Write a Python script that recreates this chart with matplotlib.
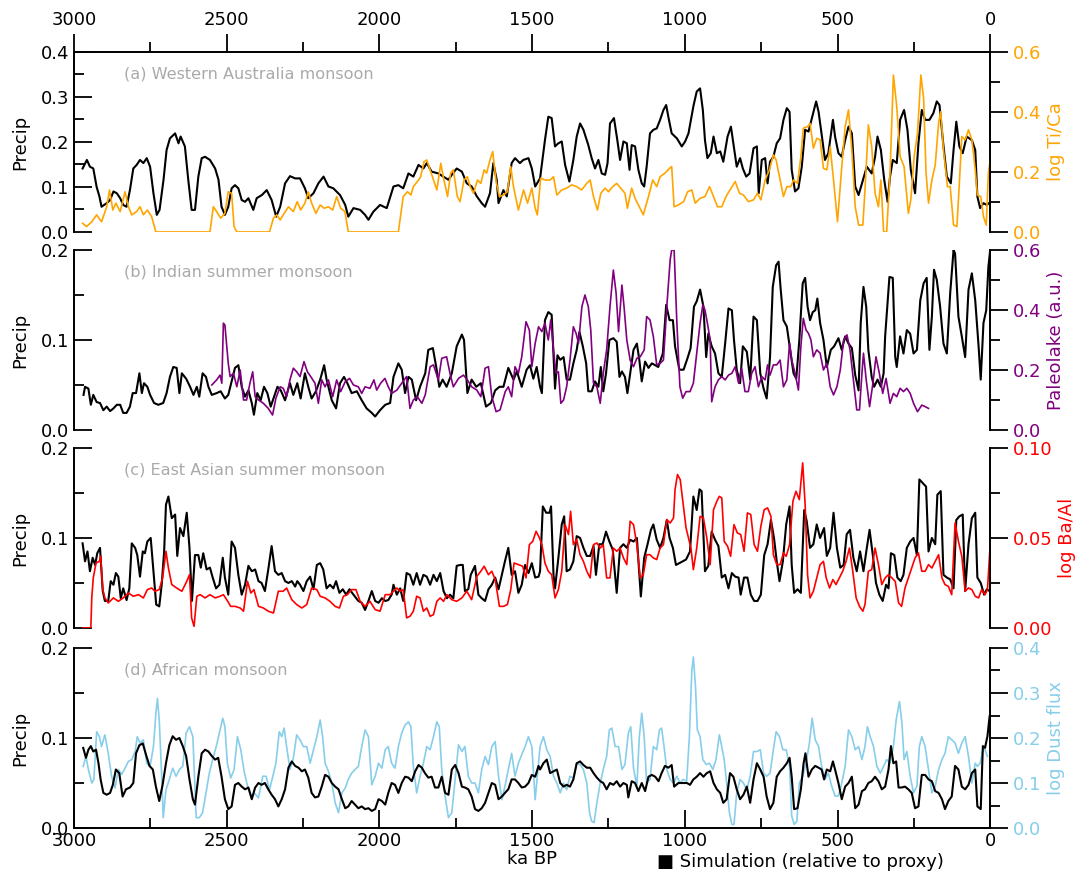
import matplotlib
matplotlib.use("Agg")
import matplotlib.pyplot as plt
import numpy as np
from matplotlib.ticker import MultipleLocator, FormatStrFormatter

# ---- data (age in years BP, value) ----
wa_sim = [(2972,0.141),(2958,0.16),(2948,0.145),(2937,0.141),(2926,0.10),(2917,0.079),(2910,0.056),(2893,0.064),(2882,0.071),(2871,0.09),(2860,0.086),(2849,0.075),(2839,0.06),(2828,0.056),(2817,0.093),(2806,0.141),(2795,0.149),(2784,0.16),(2773,0.153),(2762,0.164),(2751,0.145),(2740,0.086),(2729,0.038),(2720,0.049),(2707,0.116),(2697,0.182),(2686,0.208),(2669,0.219),(2658,0.197),(2651,0.212),(2637,0.19),(2626,0.116),(2615,0.049),(2604,0.049),(2593,0.123),(2582,0.164),(2571,0.167),(2555,0.16),(2538,0.141),(2527,0.116),(2517,0.056),(2506,0.038),(2495,0.056),(2484,0.097),(2473,0.104),(2462,0.097),(2451,0.071),(2440,0.067),(2429,0.075),(2413,0.049),(2402,0.075),(2385,0.082),(2369,0.093),(2353,0.071),(2338,0.034),(2325,0.056),(2309,0.108),(2293,0.124),(2276,0.119),(2260,0.119),(2244,0.097),(2233,0.075),(2216,0.086),(2200,0.108),(2183,0.123),(2167,0.101),(2151,0.097),(2129,0.082),(2112,0.06),(2102,0.034),(2085,0.053),(2063,0.049),(2047,0.038),(2036,0.027),(2020,0.045),(1998,0.06),(1976,0.053),(1954,0.101),(1938,0.104),(1922,0.097),(1905,0.13),(1889,0.123),(1872,0.149),(1856,0.141),(1845,0.153),(1829,0.134),(1807,0.13),(1791,0.123),(1774,0.116),(1763,0.127),(1747,0.141),(1730,0.134),(1714,0.108),(1698,0.101),(1681,0.079),(1665,0.064),(1654,0.056),(1638,0.086),(1627,0.153),(1616,0.116),(1610,0.064),(1594,0.093),(1583,0.079),(1567,0.153),(1556,0.164),(1540,0.153),(1529,0.16),(1512,0.164),(1501,0.141),(1490,0.101),(1474,0.119),(1458,0.204),(1447,0.256),(1436,0.253),(1425,0.19),(1414,0.197),(1403,0.201),(1392,0.149),(1378,0.112),(1365,0.16),(1354,0.212),(1343,0.241),(1332,0.227),(1316,0.193),(1305,0.164),(1294,0.141),(1283,0.16),(1272,0.13),(1261,0.127),(1253,0.153),(1245,0.241),(1232,0.253),(1221,0.204),(1212,0.16),(1201,0.201),(1190,0.197),(1181,0.138),(1174,0.193),(1163,0.19),(1152,0.138),(1141,0.108),(1133,0.101),(1125,0.145),(1114,0.219),(1103,0.227),(1092,0.23),(1081,0.249),(1070,0.271),(1061,0.282),(1054,0.256),(1043,0.219),(1026,0.208),(1010,0.19),(999,0.201),(988,0.219),(972,0.279),(961,0.312),(950,0.319),(941,0.271),(934,0.204),(926,0.164),(915,0.175),(906,0.212),(895,0.175),(884,0.179),(874,0.156),(860,0.212),(849,0.234),(841,0.197),(830,0.145),(819,0.164),(810,0.141),(799,0.123),(788,0.13),(775,0.186),(764,0.19),(758,0.086),(748,0.16),(737,0.164),(729,0.108),(721,0.156),(710,0.167),(699,0.197),(688,0.208),(677,0.249),(666,0.275),(657,0.267),(650,0.138),(639,0.09),(628,0.097),(617,0.145),(606,0.227),(595,0.223),(581,0.26),(570,0.29),(562,0.267),(551,0.212),(541,0.16),(530,0.175),(515,0.249),(508,0.212),(497,0.175),(486,0.167),(475,0.204),(464,0.234),(453,0.219),(442,0.101),(431,0.082),(420,0.108),(404,0.145),(388,0.13),(377,0.167),(369,0.212),(358,0.182),(347,0.116),(336,0.067),(328,0.123),(319,0.16),(306,0.153),(295,0.249),(282,0.271),(271,0.227),(260,0.138),(246,0.086),(235,0.197),(224,0.271),(213,0.249),(199,0.249),(186,0.264),(175,0.29),(166,0.282),(155,0.204),(142,0.123),(129,0.108),(120,0.182),(111,0.245),(101,0.19),(90,0.175),(77,0.212),(60,0.204),(49,0.182),(42,0.079),(33,0.053),(22,0.064),(11,0.06),(2,0.065)]

wa_proxy = [(2972,0.029),(2959,0.018),(2942,0.034),(2926,0.057),(2910,0.034),(2893,0.084),(2884,0.14),(2873,0.073),(2863,0.096),(2849,0.068),(2833,0.134),(2822,0.084),(2811,0.057),(2795,0.068),(2784,0.084),(2773,0.057),(2760,0.073),(2746,0.051),(2732,0.0),(2555,0.0),(2544,0.084),(2533,0.068),(2520,0.046),(2506,0.062),(2495,0.134),(2484,0.129),(2476,0.018),(2467,0.0),(2360,0.0),(2347,0.046),(2336,0.057),(2325,0.04),(2312,0.062),(2298,0.084),(2282,0.068),(2269,0.101),(2258,0.073),(2244,0.096),(2233,0.134),(2222,0.096),(2208,0.062),(2194,0.09),(2181,0.079),(2167,0.084),(2153,0.073),(2140,0.118),(2127,0.079),(2113,0.068),(2102,0.0),(1938,0.0),(1922,0.118),(1908,0.134),(1897,0.123),(1889,0.151),(1872,0.173),(1865,0.184),(1854,0.234),(1845,0.24),(1834,0.207),(1823,0.173),(1812,0.14),(1799,0.229),(1791,0.184),(1777,0.118),(1767,0.196),(1758,0.207),(1745,0.118),(1736,0.101),(1723,0.173),(1712,0.184),(1703,0.151),(1692,0.129),(1679,0.173),(1668,0.162),(1657,0.207),(1649,0.196),(1638,0.24),(1629,0.268),(1618,0.168),(1607,0.118),(1594,0.123),(1581,0.134),(1570,0.218),(1561,0.151),(1545,0.073),(1528,0.14),(1515,0.096),(1501,0.146),(1490,0.079),(1483,0.057),(1472,0.179),(1458,0.173),(1441,0.173),(1430,0.184),(1419,0.123),(1403,0.14),(1387,0.146),(1370,0.157),(1354,0.151),(1338,0.14),(1321,0.162),(1310,0.173),(1299,0.118),(1286,0.073),(1275,0.129),(1261,0.146),(1250,0.134),(1236,0.151),(1223,0.162),(1210,0.146),(1196,0.129),(1188,0.079),(1174,0.146),(1163,0.112),(1149,0.084),(1136,0.057),(1119,0.118),(1105,0.173),(1092,0.151),(1081,0.184),(1065,0.196),(1050,0.212),(1043,0.218),(1035,0.084),(1021,0.09),(1004,0.101),(991,0.134),(977,0.14),(966,0.096),(950,0.112),(934,0.118),(919,0.151),(906,0.118),(893,0.084),(879,0.084),(865,0.118),(852,0.14),(835,0.168),(821,0.129),(808,0.123),(792,0.101),(775,0.107),(762,0.129),(751,0.107),(737,0.173),(723,0.207),(710,0.257),(701,0.24),(690,0.184),(677,0.118),(666,0.151),(653,0.151),(644,0.173),(631,0.162),(620,0.251),(612,0.346),(598,0.351),(590,0.362),(579,0.279),(568,0.312),(557,0.307),(546,0.212),(535,0.207),(524,0.284),(513,0.173),(500,0.034),(486,0.218),(475,0.351),(464,0.407),(453,0.273),(442,0.084),(431,0.023),(417,0.023),(410,0.14),(399,0.357),(388,0.284),(377,0.129),(366,0.084),(358,0.173),(349,0.0),(339,0.0),(328,0.196),(317,0.523),(306,0.418),(295,0.251),(282,0.218),(268,0.062),(260,0.107),(249,0.251),(238,0.329),(227,0.523),(218,0.446),(210,0.196),(202,0.096),(191,0.173),(180,0.223),(169,0.362),(162,0.401),(153,0.273),(140,0.151),(131,0.151),(120,0.023),(109,0.018),(101,0.162),(93,0.318),(82,0.307),(71,0.34),(60,0.307),(49,0.207),(42,0.123),(31,0.118),(22,0.051),(13,0.023),(6,0.196),(0,0.24)]

ism_sim = [(2969,0.039),(2964,0.048),(2953,0.046),(2945,0.028),(2937,0.039),(2926,0.031),(2915,0.03),(2904,0.022),(2893,0.026),(2882,0.021),(2871,0.024),(2860,0.028),(2849,0.028),(2839,0.019),(2828,0.019),(2817,0.026),(2808,0.041),(2797,0.041),(2786,0.063),(2778,0.041),(2771,0.052),(2760,0.048),(2751,0.039),(2738,0.03),(2724,0.028),(2708,0.03),(2697,0.041),(2686,0.059),(2675,0.07),(2664,0.069),(2655,0.041),(2647,0.063),(2633,0.057),(2620,0.048),(2609,0.039),(2598,0.048),(2590,0.037),(2579,0.063),(2568,0.059),(2560,0.048),(2549,0.039),(2533,0.041),(2520,0.043),(2506,0.035),(2495,0.039),(2484,0.054),(2473,0.069),(2462,0.072),(2451,0.048),(2440,0.037),(2429,0.044),(2418,0.03),(2411,0.017),(2400,0.041),(2389,0.033),(2378,0.048),(2367,0.041),(2356,0.026),(2345,0.037),(2334,0.048),(2323,0.044),(2309,0.033),(2293,0.052),(2282,0.039),(2269,0.052),(2258,0.035),(2244,0.063),(2233,0.048),(2222,0.035),(2208,0.043),(2194,0.056),(2181,0.072),(2173,0.056),(2156,0.033),(2142,0.024),(2129,0.052),(2116,0.059),(2105,0.052),(2091,0.041),(2074,0.043),(2058,0.033),(2042,0.024),(2025,0.019),(2014,0.015),(1998,0.022),(1981,0.028),(1965,0.03),(1954,0.059),(1938,0.074),(1927,0.067),(1916,0.041),(1905,0.059),(1894,0.056),(1880,0.033),(1867,0.048),(1850,0.063),(1840,0.089),(1825,0.091),(1814,0.07),(1804,0.048),(1793,0.056),(1780,0.048),(1763,0.063),(1747,0.093),(1730,0.106),(1723,0.1),(1712,0.041),(1698,0.056),(1683,0.048),(1668,0.052),(1651,0.026),(1635,0.03),(1621,0.044),(1607,0.048),(1594,0.048),(1578,0.069),(1561,0.056),(1550,0.065),(1534,0.048),(1518,0.067),(1507,0.072),(1496,0.057),(1485,0.07),(1474,0.048),(1468,0.041),(1458,0.122),(1447,0.131),(1436,0.128),(1425,0.046),(1417,0.083),(1408,0.078),(1397,0.081),(1387,0.056),(1376,0.056),(1365,0.074),(1354,0.089),(1345,0.109),(1334,0.093),(1323,0.074),(1316,0.043),(1305,0.043),(1294,0.054),(1283,0.048),(1275,0.07),(1267,0.043),(1258,0.063),(1247,0.1),(1234,0.102),(1223,0.098),(1214,0.059),(1206,0.065),(1196,0.059),(1188,0.041),(1179,0.063),(1168,0.089),(1157,0.096),(1149,0.078),(1141,0.054),(1130,0.076),(1119,0.069),(1108,0.074),(1097,0.072),(1087,0.07),(1072,0.085),(1061,0.139),(1050,0.122),(1039,0.122),(1032,0.093),(1018,0.067),(1004,0.067),(991,0.08),(981,0.091),(970,0.137),(961,0.143),(950,0.156),(939,0.137),(930,0.081),(923,0.107),(912,0.093),(901,0.085),(890,0.063),(879,0.059),(868,0.096),(857,0.135),(846,0.133),(839,0.1),(830,0.067),(819,0.052),(810,0.093),(797,0.087),(786,0.056),(775,0.126),(764,0.122),(753,0.063),(742,0.046),(732,0.035),(721,0.081),(712,0.159),(701,0.183),(693,0.187),(686,0.156),(677,0.122),(666,0.115),(655,0.089),(644,0.063),(635,0.057),(625,0.1),(614,0.163),(606,0.169),(598,0.137),(590,0.122),(581,0.131),(573,0.133),(566,0.146),(557,0.119),(546,0.1),(535,0.07),(522,0.089),(511,0.093),(497,0.102),(486,0.089),(475,0.104),(464,0.096),(453,0.091),(442,0.061),(431,0.044),(424,0.119),(415,0.159),(406,0.137),(399,0.089),(388,0.059),(380,0.048),(369,0.056),(358,0.048),(349,0.063),(344,0.104),(330,0.17),(319,0.169),(311,0.081),(306,0.07),(295,0.104),(284,0.085),(273,0.111),(262,0.107),(251,0.085),(240,0.089),(229,0.144),(218,0.163),(208,0.169),(199,0.089),(191,0.126),(184,0.178),(175,0.167),(164,0.137),(153,0.096),(142,0.085),(131,0.152),(120,0.2),(115,0.196),(104,0.126),(93,0.104),(82,0.081),(71,0.156),(60,0.174),(49,0.144),(38,0.093),(31,0.056),(22,0.119),(13,0.133),(6,0.181),(0,0.2)]

ism_proxy = [(2549,0.15),(2533,0.167),(2522,0.183),(2516,0.156),(2511,0.356),(2506,0.35),(2495,0.222),(2489,0.178),(2478,0.189),(2467,0.144),(2456,0.2),(2445,0.1),(2435,0.1),(2424,0.156),(2415,0.194),(2407,0.111),(2396,0.1),(2380,0.089),(2364,0.072),(2350,0.05),(2339,0.106),(2325,0.144),(2315,0.139),(2304,0.111),(2293,0.167),(2282,0.206),(2271,0.194),(2260,0.178),(2247,0.228),(2236,0.194),(2225,0.178),(2211,0.156),(2200,0.089),(2189,0.167),(2178,0.144),(2167,0.167),(2153,0.111),(2140,0.167),(2127,0.128),(2112,0.161),(2098,0.172),(2085,0.15),(2069,0.144),(2058,0.122),(2047,0.144),(2031,0.139),(2018,0.167),(2009,0.133),(1996,0.156),(1982,0.172),(1971,0.144),(1960,0.122),(1943,0.133),(1927,0.156),(1911,0.178),(1900,0.072),(1889,0.1),(1876,0.111),(1861,0.089),(1850,0.117),(1834,0.211),(1823,0.217),(1807,0.167),(1796,0.239),(1780,0.244),(1769,0.189),(1758,0.144),(1741,0.172),(1725,0.183),(1712,0.167),(1698,0.144),(1681,0.133),(1668,0.111),(1654,0.206),(1643,0.211),(1632,0.111),(1618,0.061),(1605,0.067),(1588,0.128),(1578,0.144),(1567,0.111),(1556,0.211),(1545,0.189),(1534,0.244),(1520,0.361),(1509,0.333),(1501,0.211),(1490,0.289),(1479,0.344),(1468,0.328),(1458,0.356),(1447,0.3),(1439,0.367),(1430,0.267),(1422,0.189),(1414,0.194),(1406,0.089),(1397,0.1),(1387,0.144),(1376,0.233),(1365,0.344),(1356,0.322),(1348,0.289),(1337,0.411),(1327,0.45),(1316,0.411),(1308,0.333),(1299,0.156),(1288,0.144),(1277,0.089),(1267,0.189),(1256,0.267),(1245,0.411),(1234,0.533),(1225,0.456),(1217,0.328),(1206,0.483),(1199,0.411),(1190,0.3),(1179,0.233),(1168,0.211),(1157,0.239),(1146,0.244),(1133,0.267),(1125,0.378),(1114,0.367),(1103,0.311),(1092,0.217),(1081,0.222),(1070,0.233),(1059,0.411),(1048,0.567),(1043,0.6),(1035,0.6),(1026,0.356),(1016,0.144),(1007,0.106),(996,0.128),(983,0.128),(972,0.156),(961,0.256),(950,0.356),(941,0.417),(934,0.4),(926,0.356),(917,0.3),(912,0.094),(901,0.144),(890,0.167),(879,0.178),(868,0.167),(857,0.183),(846,0.189),(835,0.211),(824,0.156),(814,0.206),(803,0.128),(792,0.128),(781,0.189),(770,0.211),(759,0.144),(748,0.178),(737,0.167),(729,0.217),(721,0.183),(710,0.217),(699,0.217),(688,0.233),(677,0.144),(666,0.167),(657,0.289),(650,0.233),(639,0.189),(628,0.133),(620,0.278),(612,0.372),(603,0.333),(595,0.322),(587,0.3),(579,0.244),(568,0.267),(557,0.256),(546,0.2),(535,0.222),(524,0.144),(513,0.117),(502,0.144),(491,0.2),(480,0.3),(469,0.317),(459,0.267),(448,0.167),(437,0.067),(428,0.067),(420,0.189),(415,0.256),(406,0.167),(395,0.078),(384,0.156),(374,0.244),(363,0.189),(352,0.122),(341,0.172),(328,0.089),(317,0.122),(306,0.111),(295,0.139),(284,0.128),(273,0.139),(262,0.122),(251,0.089),(238,0.061),(224,0.083),(213,0.078),(202,0.072)]

eas_sim = [(2972,0.094),(2964,0.074),(2956,0.085),(2948,0.063),(2939,0.078),(2931,0.07),(2924,0.083),(2915,0.089),(2906,0.041),(2899,0.03),(2888,0.03),(2880,0.052),(2871,0.048),(2863,0.061),(2855,0.057),(2847,0.033),(2839,0.044),(2828,0.031),(2819,0.044),(2811,0.094),(2800,0.089),(2793,0.081),(2784,0.057),(2775,0.085),(2768,0.083),(2760,0.096),(2749,0.1),(2740,0.063),(2731,0.026),(2721,0.024),(2713,0.048),(2705,0.085),(2699,0.137),(2691,0.146),(2680,0.122),(2669,0.126),(2662,0.08),(2653,0.111),(2642,0.102),(2631,0.128),(2622,0.089),(2614,0.03),(2604,0.081),(2593,0.081),(2585,0.067),(2577,0.083),(2566,0.065),(2555,0.067),(2546,0.056),(2535,0.044),(2524,0.048),(2513,0.078),(2506,0.056),(2495,0.037),(2484,0.096),(2473,0.089),(2462,0.059),(2451,0.037),(2440,0.048),(2429,0.069),(2418,0.063),(2407,0.065),(2396,0.052),(2386,0.05),(2375,0.041),(2364,0.065),(2353,0.091),(2342,0.063),(2331,0.059),(2320,0.061),(2309,0.052),(2298,0.05),(2287,0.052),(2276,0.046),(2269,0.052),(2260,0.048),(2249,0.041),(2238,0.052),(2227,0.057),(2216,0.043),(2205,0.07),(2194,0.072),(2184,0.065),(2173,0.044),(2162,0.048),(2151,0.044),(2142,0.052),(2131,0.039),(2120,0.043),(2109,0.037),(2098,0.043),(2085,0.037),(2069,0.03),(2058,0.028),(2047,0.02),(2036,0.03),(2025,0.041),(2014,0.03),(2003,0.028),(1992,0.033),(1981,0.03),(1971,0.031),(1960,0.037),(1954,0.048),(1943,0.037),(1932,0.044),(1922,0.03),(1911,0.061),(1900,0.059),(1889,0.048),(1878,0.061),(1867,0.048),(1856,0.059),(1845,0.057),(1834,0.048),(1823,0.059),(1812,0.052),(1801,0.061),(1790,0.041),(1779,0.033),(1769,0.037),(1758,0.033),(1747,0.069),(1736,0.07),(1727,0.07),(1720,0.041),(1709,0.043),(1701,0.059),(1687,0.069),(1676,0.037),(1665,0.033),(1654,0.03),(1643,0.043),(1632,0.048),(1621,0.056),(1610,0.043),(1599,0.059),(1589,0.074),(1578,0.089),(1567,0.059),(1556,0.063),(1545,0.039),(1534,0.048),(1523,0.07),(1512,0.061),(1501,0.072),(1490,0.056),(1479,0.057),(1474,0.063),(1465,0.135),(1454,0.128),(1443,0.128),(1438,0.135),(1430,0.059),(1425,0.044),(1414,0.078),(1403,0.115),(1395,0.124),(1387,0.063),(1376,0.065),(1365,0.074),(1354,0.102),(1343,0.1),(1332,0.089),(1321,0.08),(1310,0.08),(1299,0.091),(1291,0.059),(1280,0.093),(1269,0.093),(1258,0.107),(1247,0.096),(1236,0.087),(1223,0.039),(1212,0.089),(1201,0.093),(1190,0.089),(1179,0.098),(1168,0.096),(1157,0.1),(1144,0.035),(1133,0.078),(1122,0.093),(1111,0.109),(1103,0.115),(1092,0.098),(1081,0.089),(1070,0.1),(1059,0.12),(1050,0.1),(1039,0.089),(1029,0.07),(1018,0.072),(1007,0.074),(996,0.076),(983,0.085),(972,0.146),(961,0.131),(952,0.154),(945,0.152),(934,0.063),(923,0.069),(912,0.107),(901,0.098),(890,0.091),(879,0.056),(868,0.059),(857,0.044),(846,0.061),(835,0.057),(824,0.056),(817,0.037),(806,0.056),(795,0.056),(784,0.037),(773,0.03),(762,0.03),(751,0.037),(740,0.081),(729,0.093),(718,0.12),(708,0.1),(699,0.074),(690,0.052),(679,0.074),(668,0.115),(657,0.135),(650,0.07),(642,0.039),(631,0.043),(620,0.039),(609,0.131),(601,0.119),(590,0.089),(579,0.093),(568,0.115),(557,0.1),(544,0.111),(535,0.08),(524,0.089),(513,0.128),(502,0.089),(491,0.067),(480,0.07),(470,0.104),(459,0.109),(448,0.078),(437,0.063),(426,0.085),(415,0.063),(404,0.089),(395,0.109),(384,0.08),(374,0.05),(363,0.037),(352,0.03),(341,0.048),(333,0.044),(325,0.083),(314,0.081),(304,0.056),(293,0.052),(284,0.059),(273,0.089),(262,0.096),(251,0.1),(240,0.081),(232,0.165),(221,0.161),(210,0.157),(202,0.085),(191,0.1),(180,0.093),(173,0.148),(162,0.152),(153,0.059),(142,0.056),(131,0.054),(120,0.044),(111,0.12),(101,0.124),(90,0.126),(82,0.041),(71,0.093),(60,0.122),(49,0.128),(42,0.056),(31,0.05),(20,0.037),(11,0.043),(2,0.041)]

eas_proxy = [(2972,0.0),(2945,0.0),(2942,0.0167),(2937,0.0278),(2928,0.0361),(2917,0.037),(2913,0.0398),(2906,0.0213),(2899,0.0167),(2888,0.0139),(2871,0.0167),(2855,0.0148),(2839,0.0167),(2822,0.0194),(2806,0.0176),(2789,0.0185),(2773,0.0167),(2760,0.0213),(2746,0.0222),(2735,0.0204),(2721,0.0213),(2710,0.0278),(2699,0.0426),(2691,0.0333),(2680,0.0241),(2664,0.0222),(2647,0.0204),(2631,0.0259),(2622,0.0296),(2615,0.0056),(2607,0.0009),(2598,0.0176),(2587,0.0185),(2571,0.0167),(2555,0.0185),(2538,0.0167),(2522,0.0176),(2511,0.0185),(2500,0.0157),(2487,0.012),(2473,0.012),(2456,0.0111),(2445,0.0093),(2432,0.0259),(2421,0.0194),(2411,0.0213),(2396,0.012),(2380,0.0111),(2364,0.0093),(2347,0.0083),(2331,0.0204),(2315,0.0204),(2304,0.0222),(2287,0.0157),(2271,0.013),(2254,0.0111),(2238,0.013),(2222,0.0222),(2205,0.0213),(2194,0.0176),(2178,0.0167),(2162,0.0148),(2145,0.012),(2131,0.0111),(2118,0.0176),(2105,0.0185),(2091,0.0213),(2077,0.0213),(2063,0.0148),(2047,0.012),(2031,0.0148),(2014,0.0102),(1998,0.0093),(1981,0.0185),(1965,0.0185),(1954,0.0204),(1943,0.0222),(1932,0.0204),(1922,0.0213),(1911,0.0056),(1900,0.0065),(1889,0.0093),(1878,0.0176),(1867,0.0167),(1856,0.0093),(1845,0.0111),(1834,0.0065),(1823,0.0074),(1812,0.0148),(1801,0.0167),(1790,0.0148),(1779,0.0185),(1763,0.0157),(1747,0.0148),(1730,0.0167),(1714,0.0204),(1698,0.0157),(1681,0.0287),(1668,0.0315),(1657,0.0343),(1643,0.0296),(1632,0.0315),(1621,0.0269),(1607,0.012),(1594,0.012),(1581,0.013),(1570,0.0213),(1559,0.0361),(1545,0.0352),(1531,0.0343),(1520,0.0278),(1509,0.0463),(1498,0.0481),(1487,0.0537),(1476,0.05),(1468,0.0463),(1458,0.0361),(1447,0.0315),(1436,0.0296),(1425,0.0167),(1414,0.0213),(1403,0.0315),(1392,0.0574),(1381,0.0519),(1374,0.0648),(1365,0.0463),(1354,0.0491),(1343,0.0407),(1332,0.037),(1321,0.0315),(1310,0.0278),(1299,0.0463),(1288,0.0472),(1277,0.0444),(1267,0.0463),(1256,0.0278),(1245,0.0278),(1234,0.0444),(1223,0.0426),(1212,0.0444),(1201,0.0389),(1190,0.0352),(1179,0.0593),(1168,0.0574),(1157,0.0463),(1146,0.0278),(1136,0.0296),(1125,0.0407),(1114,0.0407),(1103,0.0389),(1092,0.038),(1081,0.0444),(1070,0.0463),(1059,0.0602),(1048,0.0583),(1037,0.0611),(1032,0.0769),(1024,0.0852),(1015,0.0824),(1005,0.0685),(996,0.0556),(988,0.05),(980,0.0444),(972,0.0324),(961,0.0444),(950,0.062),(939,0.0611),(928,0.05),(917,0.0352),(906,0.0657),(895,0.0704),(887,0.0731),(879,0.0722),(871,0.0481),(860,0.0454),(850,0.0398),(839,0.0574),(828,0.0528),(817,0.0519),(806,0.0426),(795,0.0639),(784,0.063),(773,0.0463),(762,0.0426),(751,0.0565),(740,0.0657),(729,0.0667),(718,0.062),(710,0.0407),(699,0.0352),(688,0.0352),(677,0.0417),(668,0.0398),(657,0.0463),(646,0.0704),(636,0.0759),(625,0.0713),(614,0.0917),(606,0.0685),(598,0.0296),(590,0.0167),(579,0.0204),(568,0.0278),(557,0.0352),(546,0.037),(537,0.0278),(526,0.0222),(515,0.0269),(505,0.0241),(494,0.0278),(483,0.0315),(472,0.037),(461,0.0444),(450,0.0315),(439,0.0167),(428,0.012),(417,0.0093),(410,0.013),(399,0.0315),(388,0.0324),(377,0.0444),(366,0.0352),(355,0.0241),(344,0.0278),(333,0.0296),(322,0.0278),(311,0.0259),(300,0.0139),(290,0.012),(279,0.0222),(268,0.0278),(257,0.0333),(246,0.0389),(235,0.0417),(224,0.0315),(213,0.0315),(202,0.0352),(191,0.0333),(180,0.037),(169,0.0407),(158,0.0278),(148,0.0241),(137,0.0231),(126,0.0185),(115,0.0583),(104,0.0481),(93,0.0398),(82,0.0204),(71,0.0222),(60,0.0213),(49,0.0176),(38,0.0167),(28,0.0213),(17,0.0185),(9,0.0213),(0,0.0463)]

afr_sim = [(2970,0.089),(2961,0.078),(2953,0.087),(2945,0.091),(2937,0.085),(2928,0.087),(2920,0.072),(2913,0.054),(2904,0.039),(2893,0.037),(2882,0.039),(2873,0.048),(2863,0.065),(2852,0.061),(2841,0.035),(2830,0.043),(2817,0.045),(2806,0.05),(2797,0.083),(2786,0.092),(2775,0.094),(2764,0.081),(2753,0.069),(2742,0.065),(2732,0.046),(2721,0.03),(2710,0.048),(2699,0.072),(2688,0.092),(2677,0.102),(2666,0.098),(2655,0.1),(2644,0.091),(2633,0.08),(2622,0.054),(2611,0.032),(2604,0.026),(2593,0.057),(2582,0.083),(2571,0.087),(2560,0.085),(2549,0.08),(2538,0.076),(2528,0.078),(2517,0.057),(2506,0.032),(2495,0.021),(2484,0.024),(2473,0.048),(2462,0.05),(2451,0.046),(2440,0.043),(2429,0.045),(2418,0.032),(2407,0.045),(2396,0.05),(2386,0.048),(2375,0.05),(2364,0.043),(2353,0.037),(2342,0.032),(2331,0.024),(2320,0.032),(2309,0.043),(2298,0.067),(2287,0.074),(2276,0.069),(2265,0.067),(2254,0.063),(2244,0.065),(2233,0.056),(2222,0.039),(2211,0.034),(2200,0.035),(2189,0.046),(2178,0.059),(2167,0.057),(2156,0.05),(2145,0.046),(2134,0.043),(2123,0.032),(2112,0.022),(2102,0.024),(2091,0.03),(2080,0.026),(2069,0.022),(2058,0.024),(2047,0.021),(2036,0.022),(2025,0.019),(2014,0.021),(2003,0.032),(1992,0.03),(1981,0.026),(1971,0.039),(1960,0.05),(1949,0.048),(1938,0.039),(1927,0.05),(1916,0.057),(1905,0.056),(1894,0.052),(1883,0.063),(1872,0.07),(1861,0.067),(1851,0.061),(1840,0.056),(1829,0.057),(1818,0.045),(1807,0.045),(1796,0.057),(1785,0.039),(1774,0.037),(1763,0.065),(1752,0.07),(1741,0.061),(1730,0.046),(1720,0.045),(1709,0.043),(1698,0.035),(1687,0.021),(1676,0.019),(1665,0.022),(1654,0.028),(1643,0.039),(1632,0.05),(1621,0.048),(1610,0.032),(1599,0.035),(1589,0.039),(1578,0.043),(1567,0.054),(1556,0.054),(1545,0.05),(1534,0.045),(1523,0.046),(1512,0.05),(1501,0.059),(1490,0.057),(1479,0.069),(1474,0.065),(1463,0.072),(1452,0.076),(1441,0.061),(1430,0.063),(1419,0.065),(1408,0.05),(1397,0.046),(1387,0.048),(1376,0.046),(1365,0.054),(1354,0.072),(1343,0.074),(1332,0.07),(1321,0.067),(1310,0.067),(1299,0.061),(1288,0.056),(1277,0.052),(1267,0.05),(1256,0.043),(1245,0.05),(1234,0.048),(1223,0.052),(1212,0.046),(1201,0.05),(1190,0.048),(1185,0.034),(1174,0.052),(1163,0.05),(1152,0.041),(1141,0.05),(1130,0.041),(1119,0.057),(1108,0.059),(1097,0.057),(1086,0.052),(1076,0.061),(1065,0.069),(1054,0.067),(1043,0.07),(1035,0.046),(1021,0.05),(1004,0.05),(993,0.05),(983,0.048),(972,0.054),(961,0.057),(950,0.061),(939,0.057),(928,0.061),(917,0.063),(906,0.05),(895,0.043),(884,0.039),(874,0.028),(863,0.032),(852,0.061),(841,0.057),(830,0.043),(819,0.032),(808,0.037),(797,0.046),(786,0.028),(775,0.054),(764,0.072),(753,0.065),(742,0.057),(732,0.035),(721,0.021),(710,0.028),(699,0.057),(688,0.063),(677,0.067),(666,0.072),(657,0.078),(650,0.057),(642,0.021),(631,0.022),(620,0.043),(611,0.072),(605,0.083),(595,0.057),(584,0.065),(573,0.069),(562,0.067),(552,0.065),(544,0.054),(535,0.065),(524,0.063),(515,0.074),(508,0.065),(497,0.05),(486,0.032),(475,0.046),(464,0.05),(453,0.057),(442,0.022),(431,0.026),(420,0.041),(410,0.043),(399,0.05),(388,0.052),(377,0.057),(366,0.052),(355,0.043),(344,0.046),(333,0.065),(325,0.091),(317,0.072),(308,0.074),(300,0.045),(290,0.045),(279,0.046),(268,0.043),(257,0.039),(246,0.022),(235,0.024),(224,0.059),(213,0.059),(202,0.054),(191,0.052),(180,0.041),(169,0.039),(158,0.032),(148,0.021),(137,0.03),(126,0.035),(115,0.069),(104,0.065),(93,0.046),(82,0.043),(71,0.048),(60,0.061),(49,0.065),(42,0.024),(31,0.021),(24,0.091),(17,0.089),(9,0.102),(2,0.124)]

afr_proxy = [(2970,0.137),(2961,0.159),(2953,0.13),(2942,0.1),(2935,0.108),(2926,0.214),(2917,0.203),(2910,0.181),(2899,0.207),(2888,0.166),(2877,0.115),(2866,0.089),(2855,0.13),(2844,0.119),(2833,0.133),(2822,0.148),(2811,0.152),(2800,0.17),(2793,0.203),(2784,0.189),(2773,0.196),(2762,0.144),(2751,0.137),(2740,0.181),(2732,0.255),(2727,0.288),(2721,0.24),(2713,0.115),(2708,0.023),(2699,0.085),(2688,0.108),(2677,0.133),(2666,0.115),(2655,0.13),(2644,0.137),(2633,0.211),(2622,0.225),(2611,0.203),(2600,0.023),(2590,0.023),(2579,0.034),(2568,0.078),(2557,0.122),(2546,0.152),(2533,0.185),(2522,0.218),(2513,0.244),(2506,0.225),(2498,0.144),(2487,0.111),(2476,0.13),(2465,0.203),(2454,0.174),(2443,0.126),(2432,0.093),(2421,0.071),(2410,0.078),(2396,0.067),(2382,0.115),(2371,0.115),(2360,0.085),(2349,0.115),(2339,0.144),(2328,0.214),(2320,0.203),(2312,0.222),(2304,0.181),(2293,0.13),(2282,0.155),(2271,0.207),(2260,0.196),(2249,0.181),(2238,0.181),(2227,0.144),(2216,0.174),(2205,0.203),(2194,0.24),(2186,0.203),(2178,0.144),(2167,0.126),(2156,0.1),(2145,0.056),(2134,0.034),(2123,0.078),(2112,0.089),(2102,0.108),(2091,0.122),(2080,0.13),(2069,0.137),(2058,0.181),(2047,0.218),(2036,0.203),(2025,0.096),(2014,0.115),(2003,0.144),(1992,0.133),(1981,0.174),(1971,0.181),(1960,0.144),(1949,0.133),(1938,0.181),(1927,0.211),(1916,0.229),(1905,0.236),(1897,0.225),(1889,0.137),(1878,0.078),(1867,0.115),(1856,0.144),(1845,0.181),(1834,0.174),(1823,0.203),(1812,0.236),(1804,0.225),(1796,0.13),(1785,0.071),(1774,0.023),(1763,0.034),(1752,0.108),(1741,0.185),(1730,0.17),(1720,0.181),(1709,0.115),(1698,0.1),(1687,0.1),(1676,0.078),(1665,0.13),(1654,0.159),(1643,0.141),(1632,0.181),(1621,0.192),(1610,0.115),(1599,0.063),(1589,0.093),(1578,0.13),(1567,0.166),(1556,0.115),(1545,0.144),(1534,0.163),(1523,0.181),(1512,0.203),(1501,0.181),(1490,0.063),(1479,0.144),(1474,0.181),(1463,0.203),(1452,0.174),(1441,0.159),(1430,0.115),(1419,0.1),(1408,0.078),(1397,0.1),(1387,0.085),(1376,0.115),(1365,0.111),(1354,0.144),(1343,0.141),(1332,0.13),(1321,0.1),(1312,0.034),(1305,0.015),(1297,0.012),(1288,0.056),(1277,0.1),(1267,0.13),(1256,0.159),(1247,0.218),(1239,0.222),(1228,0.181),(1217,0.181),(1206,0.13),(1196,0.141),(1185,0.211),(1177,0.225),(1168,0.133),(1157,0.093),(1149,0.203),(1141,0.255),(1133,0.203),(1125,0.1),(1114,0.108),(1103,0.181),(1092,0.174),(1083,0.218),(1076,0.222),(1068,0.181),(1059,0.13),(1048,0.108),(1037,0.1),(1026,0.115),(1016,0.1),(1005,0.108),(994,0.104),(985,0.203),(977,0.351),(972,0.38),(965,0.314),(959,0.218),(950,0.203),(941,0.152),(930,0.141),(919,0.144),(908,0.13),(898,0.152),(887,0.207),(879,0.181),(871,0.152),(863,0.1),(854,0.034),(846,0.008),(839,0.008),(830,0.078),(819,0.108),(808,0.1),(797,0.085),(786,0.115),(775,0.17),(764,0.17),(753,0.174),(742,0.122),(732,0.115),(721,0.122),(710,0.174),(701,0.214),(690,0.203),(679,0.174),(668,0.174),(657,0.137),(650,0.027),(642,0.008),(633,0.015),(625,0.1),(614,0.115),(603,0.144),(592,0.189),(583,0.244),(573,0.196),(562,0.181),(552,0.137),(541,0.108),(530,0.122),(519,0.093),(508,0.071),(497,0.071),(486,0.1),(475,0.137),(464,0.218),(453,0.203),(442,0.174),(431,0.181),(420,0.152),(410,0.181),(402,0.225),(393,0.203),(382,0.181),(371,0.137),(360,0.122),(349,0.137),(339,0.152),(328,0.144),(317,0.181),(308,0.24),(297,0.281),(289,0.233),(282,0.152),(273,0.17),(262,0.115),(251,0.078),(240,0.093),(232,0.181),(224,0.203),(213,0.181),(202,0.13),(191,0.078),(180,0.093),(169,0.13),(158,0.152),(148,0.166),(137,0.203),(126,0.196),(115,0.189),(104,0.166),(93,0.189),(82,0.203),(71,0.159),(60,0.1),(49,0.144),(42,0.137),(33,0.144),(24,0.174),(17,0.174),(9,0.159)]

titles = ["(a) Western Australia monsoon", "(b) Indian summer monsoon",
          "(c) East Asian summer monsoon", "(d) African monsoon"]
proxy_labels = ["log Ti/Ca", "Paleolake (a.u.)", "log Ba/Al", "log Dust flux"]
proxy_colors = ["orange", "purple", "red", "skyblue"]
sims = [wa_sim, ism_sim, eas_sim, afr_sim]
proxies = [wa_proxy, ism_proxy, eas_proxy, afr_proxy]

# axis settings per panel: (left top, left major, left minor, right top, right major, right minor, right fmt)
lims = [(0.4, 0.1, 0.05, 0.6, 0.2, 0.1, '%.1f'),
        (0.2, 0.1, 0.05, 0.6, 0.2, 0.1, '%.1f'),
        (0.2, 0.1, 0.05, 0.10, 0.05, 0.025, '%.2f'),
        (0.2, 0.1, 0.05, 0.4, 0.1, 0.05, '%.1f')]

FS = 13
fig = plt.figure(figsize=(10.81, 8.74), dpi=100)
left, width, height = 0.0685, 0.8475, 0.206
bottoms = [0.7346, 0.508, 0.2815, 0.0526]

for i in range(4):
    ax = fig.add_axes([left, bottoms[i], width, height])
    ax2 = ax.twinx()
    s = np.array(sims[i]).T
    p = np.array(proxies[i]).T
    ly, lmaj, lmin, ry, rmaj, rmin, rfmt = lims[i]

    ax.plot(s[0], s[1], color='black', lw=1.5)
    ax2.plot(p[0], p[1], color=proxy_colors[i], lw=1.2)
    if i == 3:
        # simulation drawn over the dust record
        ax.set_zorder(ax2.get_zorder() + 1)
        ax.patch.set_visible(False)

    ax.set_xlim(3000, 0)
    ax.set_ylim(0, ly)
    ax2.set_ylim(0, ry)

    ax.yaxis.set_major_locator(MultipleLocator(lmaj))
    ax.yaxis.set_minor_locator(MultipleLocator(lmin))
    ax.yaxis.set_major_formatter(FormatStrFormatter('%.1f'))
    ax2.yaxis.set_major_locator(MultipleLocator(rmaj))
    ax2.yaxis.set_minor_locator(MultipleLocator(rmin))
    ax2.yaxis.set_major_formatter(FormatStrFormatter(rfmt))

    ax.tick_params(axis='y', which='major', direction='in', length=13, width=1.3, labelsize=FS)
    ax.tick_params(axis='y', which='minor', direction='in', length=7, width=1.3)
    ax2.tick_params(axis='y', which='major', direction='out', length=13, width=1.3,
                    labelsize=FS, labelcolor=proxy_colors[i])
    ax2.tick_params(axis='y', which='minor', direction='out', length=7, width=1.3)

    ax.xaxis.set_major_locator(MultipleLocator(500))
    ax.xaxis.set_minor_locator(MultipleLocator(250))
    ax.xaxis.set_major_formatter(FormatStrFormatter('%d'))

    for a in (ax, ax2):
        for sp in a.spines.values():
            sp.set_linewidth(1.3)
        a.spines['top'].set_visible(i == 0)
        a.spines['bottom'].set_visible(i == 3)

    if i == 0:
        ax.tick_params(axis='x', which='both', top=True, bottom=False, labeltop=True,
                       labelbottom=False, direction='out', width=1.3, labelsize=FS)
        ax.tick_params(axis='x', which='major', length=13)
        ax.tick_params(axis='x', which='minor', length=7)
    elif i == 3:
        ax.tick_params(axis='x', which='both', top=False, bottom=True, direction='in',
                       width=1.3, labelsize=FS)
        ax.tick_params(axis='x', which='major', length=13, pad=3)
        ax.tick_params(axis='x', which='minor', length=7)
        ax.set_xlabel('ka BP', fontsize=FS, labelpad=0)
    else:
        ax.tick_params(axis='x', which='both', top=False, bottom=False,
                       labeltop=False, labelbottom=False)

    ax.set_ylabel('Precip', fontsize=FS, labelpad=8)
    ax2.set_ylabel(proxy_labels[i], fontsize=FS, color=proxy_colors[i])
    ax.text(0.054, 0.88, titles[i], transform=ax.transAxes, color='#aaaaaa',
            fontsize=11.6, va='center', ha='left')

fig.text(0.608, 0.014, '\u25A0 Simulation (relative to proxy)', fontsize=FS,
         va='center', ha='left')

fig.savefig('out.png', dpi=100)
